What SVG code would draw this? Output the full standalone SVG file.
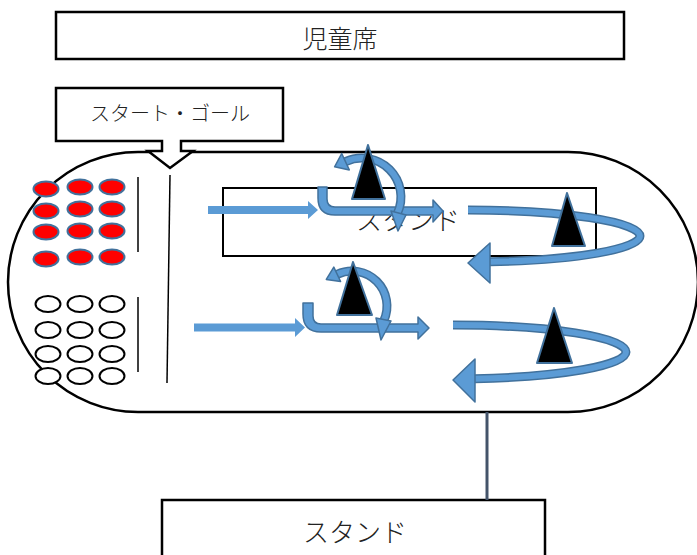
<svg xmlns="http://www.w3.org/2000/svg" width="697" height="555" viewBox="0 0 697 555">
<style>
.box{fill:#fff;stroke:#000;stroke-width:2.5}
.txt{font-family:"Noto Sans CJK JP","Noto Sans",sans-serif;font-weight:300;fill:#222;text-anchor:middle}
.red{fill:#f00;stroke:#41719C;stroke-width:2}
.wht{fill:#fff;stroke:#000;stroke-width:2}
.thin{stroke:#000;stroke-width:1.5;fill:none}
.arr{fill:#5B9BD5}
.arrO{fill:#5B9BD5;stroke:#41719C;stroke-width:1.5;stroke-linejoin:round}
.bandO{fill:none;stroke:#41719C;stroke-width:9}
.bandI{fill:none;stroke:#5B9BD5;stroke-width:6}
.cone{fill:#000;stroke:#41719C;stroke-width:2;stroke-linejoin:round}
</style>
<rect width="697" height="555" fill="#fff"/>
<g id="track"><rect x="8" y="152" width="690" height="260" rx="130" ry="130" class="box"/></g>
<g id="title"><rect x="56" y="12" width="568" height="47" class="box"/><text x="340" y="48" class="txt" font-size="25">児童席</text></g>
<g id="start-goal"><path d="M56,88 H283 V141 H181 V151 H193 L170,168 L148,151 H162 V141 H56 Z" class="box" stroke-linejoin="miter"/><text x="170" y="121" class="txt" font-size="20">スタート・ゴール</text></g>
<g id="stand-inner"><rect x="223" y="188" width="373" height="68" fill="none" stroke="#000" stroke-width="2"/><text x="408" y="230" class="txt" font-size="26">スタンド</text></g>
<g id="stand-bottom"><rect x="162" y="500" width="383" height="60" class="box"/><text x="355" y="542" class="txt" font-size="26">スタンド</text></g>
<g id="lines">
<line x1="138" y1="177" x2="138" y2="252" class="thin"/>
<line x1="138" y1="297" x2="138" y2="372" class="thin"/>
<line x1="170" y1="175" x2="167" y2="383" class="thin"/>
</g>
<g id="red-team">
<ellipse cx="46" cy="189" rx="12.5" ry="7.5" class="red"/><ellipse cx="80" cy="187" rx="12.5" ry="7.5" class="red"/><ellipse cx="112" cy="187" rx="12.5" ry="7.5" class="red"/>
<ellipse cx="46" cy="211" rx="12.5" ry="7.5" class="red"/><ellipse cx="80" cy="209" rx="12.5" ry="7.5" class="red"/><ellipse cx="112" cy="209" rx="12.5" ry="7.5" class="red"/>
<ellipse cx="46" cy="232" rx="12.5" ry="7.5" class="red"/><ellipse cx="80" cy="231" rx="12.5" ry="7.5" class="red"/><ellipse cx="112" cy="231" rx="12.5" ry="7.5" class="red"/>
<ellipse cx="46" cy="259" rx="12.5" ry="7.5" class="red"/><ellipse cx="80" cy="257" rx="12.5" ry="7.5" class="red"/><ellipse cx="112" cy="257" rx="12.5" ry="7.5" class="red"/>
</g>
<g id="white-team">
<ellipse cx="48" cy="304" rx="12.5" ry="8" class="wht"/><ellipse cx="80" cy="304" rx="12.5" ry="8" class="wht"/><ellipse cx="112" cy="304" rx="12.5" ry="8" class="wht"/>
<ellipse cx="48" cy="330" rx="12.5" ry="8" class="wht"/><ellipse cx="80" cy="330" rx="12.5" ry="8" class="wht"/><ellipse cx="112" cy="330" rx="12.5" ry="8" class="wht"/>
<ellipse cx="48" cy="354" rx="12.5" ry="8" class="wht"/><ellipse cx="80" cy="354" rx="12.5" ry="8" class="wht"/><ellipse cx="112" cy="354" rx="12.5" ry="8" class="wht"/>
<ellipse cx="48" cy="376" rx="12.5" ry="8" class="wht"/><ellipse cx="80" cy="376" rx="12.5" ry="8" class="wht"/><ellipse cx="112" cy="376" rx="12.5" ry="8" class="wht"/>
</g>
<g id="connectors">
<line x1="487" y1="412" x2="487" y2="500" stroke="#44546A" stroke-width="3"/>
<polygon points="208,206 308,206 308,201 318,210 308,219 308,214 208,214" class="arr"/>
<polygon points="194,323.5 295,323.5 295,318 305,327.5 295,337 295,331.5 194,331.5" class="arr"/>
<path d="M318,187 H327 V199 Q327,207 335,207 H433 V200 L443,211 L433,222 V215 H335 Q318,215 318,198 Z" class="arrO"/>
<path d="M303,303 H313 V316 Q313,324 321,324 H418 V317 L429,328 L418,339 V332 H321 Q303,332 303,314 Z" class="arrO"/>
<path d="M397.3,213.5 A39,39 0 0 0 345.5,161.7" class="bandO"/>
<path d="M397.3,213.5 A39,39 0 0 0 345.5,161.7" class="bandI"/>
<polygon points="349.3,169.9 334.6,166.8 341.7,153.5" class="arrO"/>
<polygon points="391,211 406,215 398,231" class="arrO"/>
<path d="M383.7,320.8 A35,35 0 0 0 337.2,274.3" class="bandO"/>
<path d="M383.7,320.8 A35,35 0 0 0 337.2,274.3" class="bandI"/>
<polygon points="340.6,281.5 326.3,279.4 333.8,267.1" class="arrO"/>
<polygon points="376,318 391,321 381,340" class="arrO"/>
<path d="M468,210 A172,26 0 0 1 640,236 A172,26 0 0 1 490,261.8" class="bandO"/>
<path d="M468,210 A172,26 0 0 1 640,236 A172,26 0 0 1 490,261.8" class="bandI"/>
<polygon points="490,243 468,263 490,283" class="arrO"/>
<path d="M453,325 A173,27 0 0 1 626,352 A173,27 0 0 1 475,378.7" class="bandO"/>
<path d="M453,325 A173,27 0 0 1 626,352 A173,27 0 0 1 475,378.7" class="bandI"/>
<polygon points="475,359 453,380 475,402" class="arrO"/>
</g>
<g id="cones">
<polygon points="368,145 352,199 385,199" class="cone"/>
<polygon points="353,262 337,315 372,315" class="cone"/>
<polygon points="567,193 552,246 585,246" class="cone"/>
<polygon points="554,308 537,363 572,363" class="cone"/>
</g>
</svg>
